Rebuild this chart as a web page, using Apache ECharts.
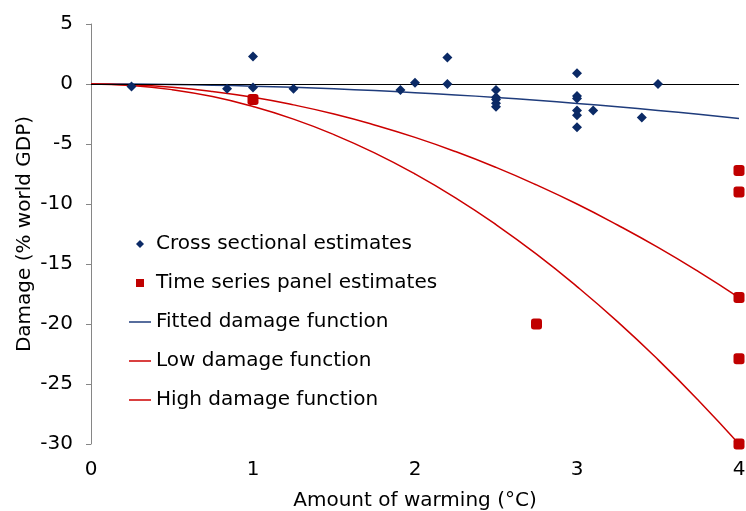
<!DOCTYPE html>
<html>
<head>
<meta charset="utf-8">
<script src="https://cdn.jsdelivr.net/npm/echarts@6/dist/echarts.min.js"></script>
<style>
html,body{margin:0;padding:0;background:#fff;}
#chart{width:746px;height:511px;}
</style>
</head>
<body>
<div id="chart"></div>
<script>
// ---- data ----
const crossX = [0.25, 0.84, 1.0, 1.0, 1.25, 1.91, 2.0, 2.2, 2.2, 2.5, 2.5, 2.5, 2.5, 2.5, 3.0, 3.0, 3.0, 3.0, 3.0, 3.0, 3.1, 3.4, 3.5];
const crossY = [-0.2, -0.4, 2.3, -0.3, -0.4, -0.5, 0.1, 2.2, 0.0, -0.5, -1.1, -1.3, -1.6, -1.9, 0.9, -1.0, -1.2, -2.2, -2.6, -3.6, -2.2, -2.8, 0.0];
const panelX = [1.0, 2.75, 4, 4, 4, 4, 4];
const panelY = [-1.3, -20.0, -7.2, -9.0, -17.8, -22.9, -30.0];
const curveX = [0, 0.25, 0.5, 0.75, 1, 1.25, 1.5, 1.75, 2, 2.25, 2.5, 2.75, 3, 3.25, 3.5, 3.75, 4];
const fittedY = [0, -0.01, -0.05, -0.1, -0.18, -0.28, -0.4, -0.55, -0.72, -0.91, -1.12, -1.36, -1.62, -1.9, -2.2, -2.53, -2.88];
const lowY = [0, -0.07, -0.28, -0.63, -1.11, -1.74, -2.5, -3.41, -4.45, -5.63, -6.95, -8.41, -10.0, -11.75, -13.62, -15.64, -17.8];
const highY = [0, -0.12, -0.47, -1.05, -1.88, -2.93, -4.22, -5.74, -7.5, -9.49, -11.72, -14.18, -16.88, -19.8, -22.97, -26.37, -30.0];
const xTicks = [0, 1, 2, 3, 4];
const yTicks = [5, 0, -5, -10, -15, -20, -25, -30];
const names = ['Cross sectional estimates', 'Time series panel estimates', 'Fitted damage function', 'Low damage function', 'High damage function'];
const xTitle = 'Amount of warming (°C)';
const yTitle = 'Damage (% world GDP)';

const zip = (xs, ys) => xs.map((x, i) => [x, ys[i]]);
const FONT = 'DejaVu Sans';
const FS = 20;
const LINE_ICON = 'path://M0,0H44V3H0Z';

const chart = echarts.init(document.getElementById('chart'), null, {renderer: 'canvas'});
chart.setOption({
  animation: false,
  backgroundColor: '#ffffff',
  textStyle: {fontFamily: FONT},
  grid: {left: 91, right: 7, top: 24, bottom: 67, containLabel: false, outerBoundsMode: 'none'},
  legend: {
    orient: 'vertical',
    left: 124,
    top: 229,
    itemWidth: 22,
    itemHeight: 8,
    itemGap: 19,
    symbolKeepAspect: true,
    textStyle: {fontFamily: FONT, fontSize: FS, color: '#000', lineHeight: 20},
    data: [
      {name: names[0], icon: 'path://M4,0L8,4L4,8L0,4Z', symbolKeepAspect: true},
      {name: names[1], icon: 'path://M0,0H8V8H0Z', symbolKeepAspect: true},
      {name: names[2], icon: LINE_ICON, symbolKeepAspect: true},
      {name: names[3], icon: LINE_ICON, symbolKeepAspect: true},
      {name: names[4], icon: LINE_ICON, symbolKeepAspect: true}
    ]
  },
  xAxis: {
    type: 'value',
    min: xTicks[0],
    max: xTicks[xTicks.length - 1],
    interval: 1,
    name: xTitle,
    nameLocation: 'middle',
    nameGap: 47,
    nameMoveOverlap: false,
    nameTextStyle: {fontFamily: FONT, fontSize: FS, color: '#000'},
    axisLine: {show: false},
    axisTick: {show: false},
    splitLine: {show: false},
    axisLabel: {fontFamily: FONT, fontSize: FS, color: '#000', margin: 16}
  },
  yAxis: {
    type: 'value',
    min: yTicks[yTicks.length - 1],
    max: yTicks[0],
    interval: 5,
    name: yTitle,
    nameLocation: 'middle',
    nameGap: 56,
    nameMoveOverlap: false,
    nameTextStyle: {fontFamily: FONT, fontSize: FS, color: '#000'},
    axisLine: {show: true, onZero: false, lineStyle: {color: '#868686', width: 1}},
    axisTick: {show: true, inside: false, length: 5, lineStyle: {color: '#868686'}},
    splitLine: {show: false},
    axisLabel: {fontFamily: FONT, fontSize: FS, color: '#000', margin: 18}
  },
  series: [
    {
      name: names[2],
      type: 'line',
      data: zip(curveX, fittedY),
      smooth: true,
      symbol: 'none',
      lineStyle: {color: '#1f3c7c', width: 1.5},
      itemStyle: {color: '#1f3c7c'},
      z: 3,
      markLine: {
        silent: true,
        symbol: 'none',
        label: {show: false},
        lineStyle: {color: '#000000', width: 1, type: 'solid'},
        data: [{yAxis: 0}]
      }
    },
    {
      name: names[3],
      type: 'line',
      data: zip(curveX, lowY),
      smooth: true,
      symbol: 'none',
      lineStyle: {color: '#cc0000', width: 1.5},
      itemStyle: {color: '#cc0000'},
      z: 3
    },
    {
      name: names[4],
      type: 'line',
      data: zip(curveX, highY),
      smooth: true,
      symbol: 'none',
      lineStyle: {color: '#cc0000', width: 1.5},
      itemStyle: {color: '#cc0000'},
      z: 3
    },
    {
      name: names[0],
      type: 'scatter',
      data: zip(crossX, crossY),
      symbol: 'diamond',
      symbolSize: 10,
      itemStyle: {color: '#0b2a66', opacity: 1},
      z: 5
    },
    {
      name: names[1],
      type: 'scatter',
      data: zip(panelX, panelY),
      symbol: 'roundRect',
      symbolSize: 11,
      itemStyle: {color: '#c00000', opacity: 1},
      z: 6
    }
  ]
});
</script>
</body>
</html>
